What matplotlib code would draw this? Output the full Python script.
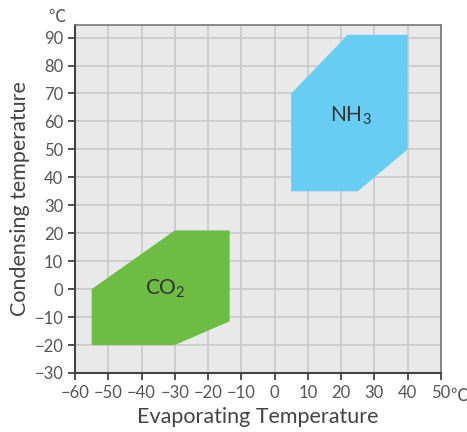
import numpy as np
import matplotlib
matplotlib.use("Agg")
import matplotlib.pyplot as plt
from matplotlib.patches import Polygon

# region outlines (evaporating temp, condensing temp)
co2_x = [-55, -55, -30, -13.5, -13.5, -30]
co2_y = [-20, 0, 21, 21, -11.5, -20]
nh3_x = [5, 5, 22, 40, 40, 25]
nh3_y = [35, 70, 91, 91, 50, 35]
xticks = list(range(-60, 51, 10))
yticks = list(range(-30, 91, 10))

plt.rcParams['font.family'] = ['Lato', 'DejaVu Sans']
plt.rcParams['mathtext.fontset'] = 'custom'
plt.rcParams['mathtext.rm'] = 'Lato'
plt.rcParams['mathtext.it'] = 'Lato'
fig = plt.figure(figsize=(4.67, 4.32), dpi=100)
ax = fig.add_axes([0.1606, 0.1366, 0.7834, 0.8055])
ax.set_facecolor('#e9e9e9')
ax.set_xlim(-60, 50)
ax.set_ylim(-30, 94.5)
ax.set_xticks(xticks)
ax.set_yticks(yticks)
ax.grid(True, color='#c9c9c9', linewidth=1.2)
ax.set_axisbelow(True)

ax.add_patch(Polygon(np.column_stack([co2_x, co2_y]), closed=True,
                     facecolor='#6dbd45', edgecolor='none', zorder=2))
ax.add_patch(Polygon(np.column_stack([nh3_x, nh3_y]), closed=True,
                     facecolor='#67cdf3', edgecolor='none', zorder=2))
ax.text(-33, 0, r'CO$_\mathrm{2}$', fontsize=15, color='#333333', ha='center', va='center', zorder=3)
ax.text(23, 62, r'NH$_\mathrm{3}$', fontsize=15, color='#333333', ha='center', va='center', zorder=3)

for s in ['left', 'bottom']:
    ax.spines[s].set_color('#444444')
    ax.spines[s].set_linewidth(1.5)
for s in ['top', 'right']:
    ax.spines[s].set_color('#777777')
    ax.spines[s].set_linewidth(1.2)
ax.tick_params(direction='out', length=5, width=1.3, color='#444444',
               labelsize=12, labelcolor='#555555')
ax.tick_params(axis='x', pad=4)

ax.set_xlabel('Evaporating Temperature', fontsize=15.5, color='#444444', labelpad=4)
ax.set_ylabel('Condensing temperature', fontsize=15.5, color='#444444', labelpad=3)
fig.text(57 / 467, 1 - 17 / 432, '℃', fontsize=12.5, color='#555555',
         ha='center', va='center', family=['Noto Sans CJK SC', 'DejaVu Sans'])
fig.text(459 / 467, 1 - 396 / 432, '℃', fontsize=12.5, color='#555555',
         ha='center', va='center', family=['Noto Sans CJK SC', 'DejaVu Sans'])

fig.savefig('out.png', dpi=100)
